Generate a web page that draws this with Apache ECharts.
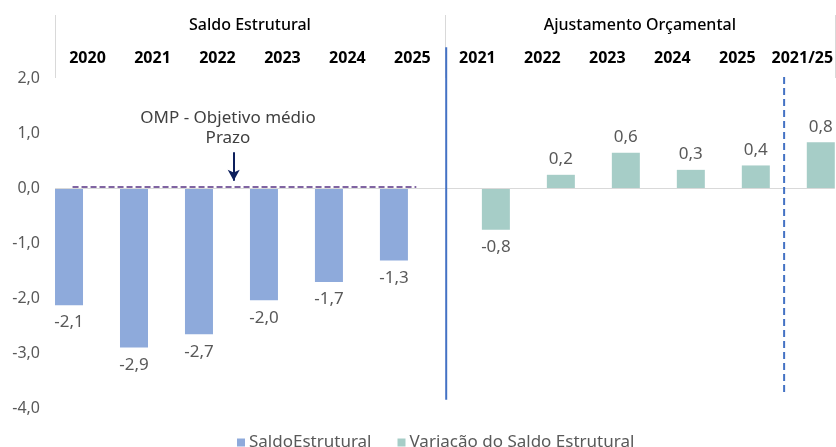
<!DOCTYPE html>
<html>
<head>
<meta charset="utf-8">
<script src="https://cdn.jsdelivr.net/npm/echarts@6/dist/echarts.min.js"></script>
<style>
  html, body { margin: 0; padding: 0; background: #fff; }
  #chart { width: 836px; height: 447px; }
</style>
</head>
<body>
<div id="chart"></div>
<script>
/* data */
var years = ['2020', '2021', '2022', '2023', '2024', '2025',
             '2021', '2022', '2023', '2024', '2025', '2021/25'];
var groups = ['Saldo Estrutural', 'Ajustamento Orçamental'];
var saldo = [-2.13, -2.9, -2.66, -2.04, -1.71, -1.32, null, null, null, null, null, null];
var variacao = [null, null, null, null, null, null, -0.76, 0.24, 0.64, 0.33, 0.41, 0.83];
var yTicks = [-4, -3, -2, -1, 0, 1, 2];
var seriesNames = ['SaldoEstrutural', 'Variação do Saldo Estrutural'];

var font = 'Noto Sans';
var grey = '#595959';

function fmt(v) {
  return v.toFixed(1).replace('.', ',');
}

// label sits beyond the end of the bar
function barItems(arr) {
  return arr.map(function (v) {
    if (v == null) return null;
    return {
      value: v,
      label: { position: v < 0 ? 'bottom' : 'top', distance: v < 0 ? 9 : 7 }
    };
  });
}

var barLabel = {
  show: true,
  fontFamily: font,
  fontSize: 17,
  color: grey,
  formatter: function (p) { return fmt(p.value); }
};

var option = {
  animation: false,
  backgroundColor: '#fff',
  grid: { left: 55, top: 78, bottom: 39, width: 782 },
  legend: {
    data: seriesNames,
    left: 232,
    top: 429,
    icon: 'rect',
    itemWidth: 8,
    itemHeight: 8,
    itemGap: 26,
    textStyle: { fontFamily: font, fontSize: 17, color: grey, padding: [0, 0, 0, -1] }
  },
  xAxis: [
    {
      type: 'category',
      data: years,
      position: 'top',
      axisLine: { show: false, onZero: false },
      axisTick: { show: false },
      axisLabel: { interval: 0, margin: 12, fontFamily: font, fontSize: 16, fontWeight: 'bold', color: '#000' }
    },
    {
      type: 'category',
      data: groups,
      position: 'top',
      axisLine: { show: false, onZero: false },
      axisTick: { show: true, length: 63, lineStyle: { color: '#d9d9d9', width: 1 } },
      axisLabel: { margin: 45, fontFamily: font, fontSize: 16, fontWeight: 500, color: '#000' }
    },
    {
      type: 'value',
      min: 0,
      max: 12,
      show: false
    }
  ],
  yAxis: {
    type: 'value',
    min: yTicks[0],
    max: yTicks[yTicks.length - 1],
    interval: 1,
    axisLine: { show: false },
    axisTick: { show: false },
    splitLine: { show: false },
    axisLabel: {
      margin: 15,
      fontFamily: font,
      fontSize: 16,
      color: grey,
      formatter: function (v) { return fmt(v); }
    }
  },
  series: [
    {
      name: seriesNames[0],
      type: 'bar',
      data: barItems(saldo),
      barWidth: 28,
      barGap: '32%',
      itemStyle: { color: '#8eaadb' },
      label: barLabel,
      markLine: {
        silent: true,
        symbol: 'none',
        label: { show: false },
        lineStyle: { color: '#d9d9d9', type: 'solid', width: 1 },
        data: [{ yAxis: 0 }]
      },
      z: 1
    },
    {
      name: seriesNames[1],
      type: 'bar',
      data: barItems(variacao),
      barWidth: 28,
      barGap: '32%',
      itemStyle: { color: '#a6cdc7' },
      label: barLabel,
      z: 1
    },
    {
      // overlay lines: OMP target and arrow
      name: 'overlay',
      type: 'line',
      xAxisIndex: 2,
      data: [],
      clip: false,
      silent: true,
      z: 5,
      markLine: {
        silent: true,
        animation: false,
        label: { show: false },
        symbol: 'none',
        data: [
          [
            { coord: [0.27, 0.02], lineStyle: { color: '#8064a2', type: [6, 3], width: 2 } },
            { coord: [5.56, 0.02] }
          ],
          [
            { coord: [2.75, 0.65], symbol: 'none', lineStyle: { color: '#0d1f5c', type: 'solid', width: 2 } },
            { coord: [2.75, 0.13], symbol: 'arrow', symbolSize: [9, 11] }
          ]
        ]
      }
    }
  ],
  graphic: [
    {
      type: 'text',
      id: 'omp',
      x: 228,
      y: 108,
      style: {
        text: 'OMP - Objetivo médio\nPrazo',
        fontFamily: font,
        fontSize: 17,
        lineHeight: 20,
        fill: '#404040',
        align: 'center',
        verticalAlign: 'top'
      }
    }
  ]
};

var chart = echarts.init(document.getElementById('chart'));
chart.setOption(option);

// section dividers run past the plot area, so place them via the overlay series' axes
function px(x, y) {
  return chart.convertToPixel({ seriesIndex: 2 }, [x, y]);
}
var a1 = px(6.02, 2.56), a2 = px(6.02, -3.85);
var b1 = px(11.22, 2.02), b2 = px(11.22, -3.71);
chart.setOption({
  graphic: [
    {
      type: 'line', id: 'divider', z: 10,
      shape: { x1: a1[0], y1: a1[1], x2: a2[0], y2: a2[1] },
      style: { stroke: '#4472c4', lineWidth: 2 }
    },
    {
      type: 'line', id: 'divider2', z: 10,
      shape: { x1: b1[0], y1: b1[1], x2: b2[0], y2: b2[1] },
      style: { stroke: '#4472c4', lineWidth: 2, lineDash: [7, 4] }
    }
  ]
});
</script>
</body>
</html>
